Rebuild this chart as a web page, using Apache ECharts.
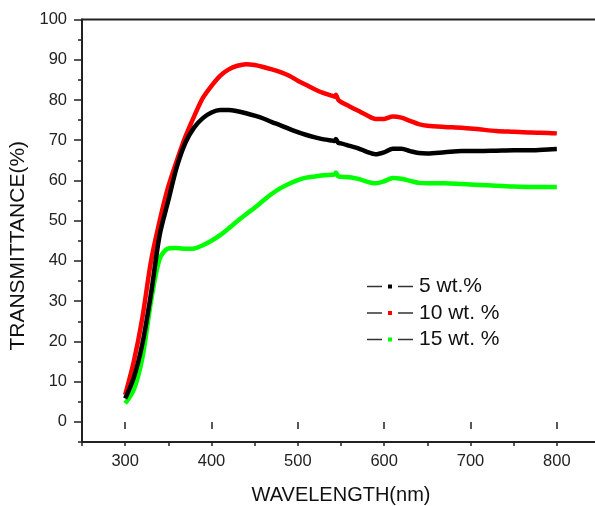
<!DOCTYPE html>
<html><head><meta charset="utf-8">
<script src="https://cdn.jsdelivr.net/npm/echarts@6/dist/echarts.min.js"></script>
<style>html,body{margin:0;padding:0;background:#fff}#c{width:595px;height:506px}</style>
</head><body><div id="c"></div>
<script>
var wavelength = [300,310,320,330,340,350,360,370,380,390,400,410,420,430,440,450,460,470,480,490,500,510,520,530,540,543,544,547,550,560,570,580,590,600,610,620,630,640,650,670,690,710,730,750,770,790,800];
var wt5 = [5.8,11,19.5,32,46.5,55,63.5,69.5,73.2,75.5,76.9,77.5,77.5,77.2,76.7,76.1,75.4,74.5,73.7,72.8,72.0,71.3,70.7,70.2,69.9,69.8,70.3,69.3,69.2,68.6,68.0,67.1,66.5,67.0,67.9,67.9,67.3,66.8,66.7,67.0,67.3,67.3,67.4,67.5,67.5,67.7,67.8];
var wt10 = [6.7,15,26,40,50,58.5,65,71,76,80.5,83.5,86,87.6,88.5,88.9,88.7,88.2,87.6,86.9,86,84.8,83.7,82.6,81.7,81.0,80.8,81.3,80.0,79.5,78.4,77.3,76.2,75.3,75.3,75.9,75.6,74.8,74.0,73.6,73.3,73.1,72.7,72.3,72.1,71.9,71.8,71.7];
var wt15 = [4.6,8,16,30,40.5,43.1,43.2,43.0,43.1,43.9,45.0,46.4,48.1,49.9,51.6,53.2,55,56.7,58.1,59.2,60.1,60.7,61.0,61.3,61.4,61.5,62.0,61.0,60.9,60.8,60.4,59.7,59.3,59.8,60.6,60.4,59.9,59.4,59.3,59.3,59.1,58.9,58.7,58.5,58.4,58.4,58.4];
var seriesNames = ['5 wt.%', '10 wt. %', '15 wt. %'];
var seriesColors = ['#000000', '#ff0000', '#00ff00'];
var xMajorTicks = [300,400,500,600,700,800];
var yMajorTicks = [0,10,20,30,40,50,60,70,80,90,100];

function pairs(xs, ys){ return xs.map(function(x,i){ return [x, ys[i]]; }); }
var allValues = [wt5, wt10, wt15];
var FONT = 'Liberation Sans, Arial, sans-serif';
var rich = {
  ln: {width: 15, height: 1.5, backgroundColor: '#333'},
  sp: {width: 6, height: 1},
  sp2: {width: 6, height: 1},
  t: {fontSize: 21, fontFamily: FONT, color: '#111'}
};
seriesColors.forEach(function(c, i){ rich['sq' + i] = {width: 4, height: 4, backgroundColor: c}; });

var chart = echarts.init(document.getElementById('c'), null, {renderer: 'canvas'});
chart.setOption({
  animation: false,
  backgroundColor: '#fff',
  grid: {left: 82, top: 19.5, width: 518, height: 422.5, outerBoundsMode: 'none', containLabel: false, show: true, borderColor: '#222', borderWidth: 2, backgroundColor: 'transparent'},
  legend: {
    left: 362, top: 276, padding: 0, orient: 'vertical', itemGap: 5.5, itemWidth: 0, itemHeight: 0, icon: 'none',
    data: seriesNames,
    formatter: function(name){
      var i = seriesNames.indexOf(name);
      return '{ln| }{sp| }{sq' + i + '| }{sp| }{ln| }{sp2| }{t|' + name + '}';
    },
    textStyle: {fontSize: 21, fontFamily: FONT, color: '#111', rich: rich}
  },
  xAxis: [{
    type: 'value', min: 250, max: 850, interval: 50,
    name: 'WAVELENGTH(nm)', nameLocation: 'middle', nameGap: 43,
    nameTextStyle: {fontSize: 20, fontFamily: FONT, color: '#111'},
    axisLine: {show: true, onZero: false, lineStyle: {color: '#222', width: 2}},
    axisTick: {show: true, length: 4, inside: false, lineStyle: {color: '#222', width: 1.5}},
    axisLabel: {customValues: xMajorTicks, fontSize: 16.5, fontFamily: FONT, color: '#222', margin: 11},
    splitLine: {show: false}
  }, {
    type: 'value', min: 250, max: 850, position: 'bottom', offset: 0,
    axisLine: {show: false},
    axisTick: {show: true, length: 7, customValues: xMajorTicks, lineStyle: {color: '#222', width: 1.5}},
    axisLabel: {show: false}, splitLine: {show: false}
  }],
  yAxis: [{
    type: 'value', min: -5, max: 100, interval: 5,
    name: 'TRANSMITTANCE(%)', nameLocation: 'middle', nameGap: 52,
    nameTextStyle: {fontSize: 21, fontFamily: FONT, color: '#111', padding: [0, 30, 0, 0]},
    axisLine: {show: true, onZero: false, lineStyle: {color: '#222', width: 2}},
    axisTick: {show: true, length: 4, lineStyle: {color: '#222', width: 1.5}},
    axisLabel: {customValues: yMajorTicks, fontSize: 16.5, fontFamily: FONT, color: '#222', margin: 15},
    splitLine: {show: false}
  }, {
    type: 'value', min: -5, max: 100, position: 'left', offset: 0,
    axisLine: {show: false},
    axisTick: {show: true, length: 8, customValues: yMajorTicks, lineStyle: {color: '#222', width: 1.5}},
    axisLabel: {show: false}, splitLine: {show: false}
  }],
  series: seriesNames.map(function(n, i){
    return {
      name: n, type: 'line', xAxisIndex: 0, yAxisIndex: 0,
      data: pairs(wavelength, allValues[i]),
      smooth: 0.3, showSymbol: false, symbol: 'none',
      lineStyle: {color: seriesColors[i], width: 4.5},
      itemStyle: {color: seriesColors[i]},
      z: 3 - i
    };
  })
});
</script></body></html>
